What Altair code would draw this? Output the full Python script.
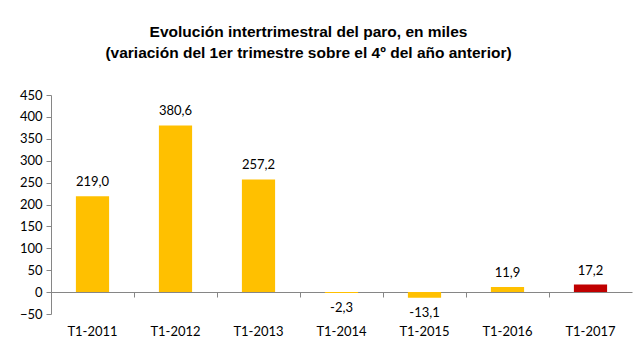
import altair as alt
import pandas as pd

categories = ["T1-2011", "T1-2012", "T1-2013", "T1-2014", "T1-2015", "T1-2016", "T1-2017"]
values = [219.0, 380.6, 257.2, -2.3, -13.1, 11.9, 17.2]
labels = ["219,0", "380,6", "257,2", "-2,3", "-13,1", "11,9", "17,2"]
colors = ["#FFC000", "#FFC000", "#FFC000", "#FFC000", "#FFC000", "#FFC000", "#C00000"]

df = pd.DataFrame({"cat": categories, "val": values, "lab": labels, "col": colors})

x = alt.X("cat:N", sort=categories, title=None,
          scale=alt.Scale(paddingInner=0, paddingOuter=0),
          axis=alt.Axis(orient="bottom", offset=-22, domainColor="#868686", tickColor="#868686",
                        tickSize=5, bandPosition=0, labelAngle=0, labelPadding=28,
                        labelFont="Lato", labelFontSize=13, labelColor="#000000"))
y = alt.Y("val:Q", title=None,
          scale=alt.Scale(domain=[-50, 450], nice=False, zero=False),
          axis=alt.Axis(values=list(range(-50, 451, 50)), grid=False, domainColor="#868686",
                        tickColor="#868686", tickSize=5, labelFont="Lato", labelFontSize=13,
                        labelColor="#000000", labelPadding=4))

base = alt.Chart(df)
bars = base.mark_bar(width=alt.RelativeBandSize(0.4)).encode(
    x=x, y=y, y2=alt.datum(0), color=alt.Color("col:N", scale=None)
)
pos = base.transform_filter("datum.val >= 0").mark_text(
    baseline="bottom", dy=-7, font="Lato", fontSize=13, color="#000000"
).encode(x=x, y=y, text="lab:N")
neg = base.transform_filter("datum.val < 0").mark_text(
    baseline="top", dy=9, font="Lato", fontSize=13, color="#000000"
).encode(x=x, y=y, text="lab:N")

chart = alt.layer(bars, pos, neg).properties(
    width=581, height=219,
    padding={"left": 43, "top": 87, "right": 2, "bottom": 30},
    autosize=alt.AutoSizeParams(type="none"),
    title=alt.TitleParams(
        text=["Evolución intertrimestral del paro, en miles",
              "(variación del 1er trimestre  sobre el 4º del año anterior)"],
        font="Liberation Sans", fontSize=15.5, fontWeight="bold", color="#000000",
        anchor="middle", dx=-33, offset=28, lineHeight=21,
    ),
).configure_view(stroke=None)

chart.save("out.html", embed_options={"renderer": "svg", "actions": False})
